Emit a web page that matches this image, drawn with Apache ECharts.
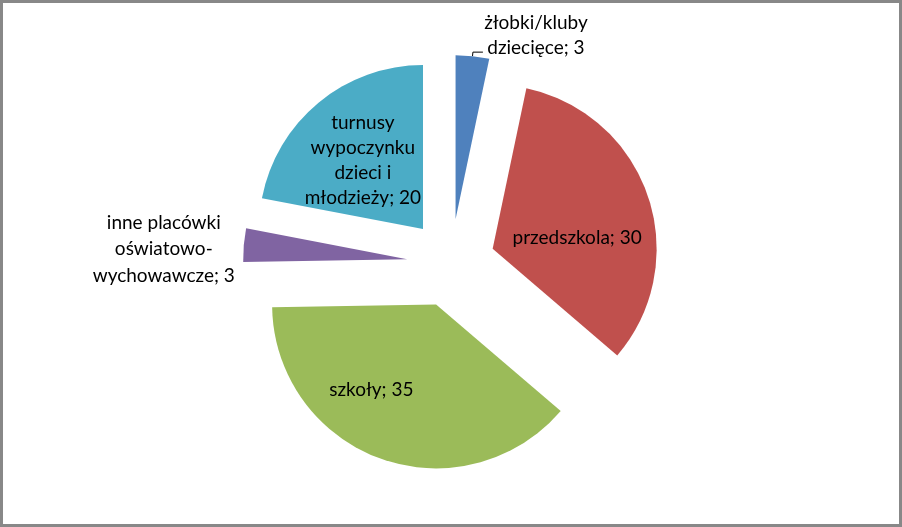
<!DOCTYPE html>
<html>
<head>
<meta charset="utf-8">
<script src="https://cdn.jsdelivr.net/npm/echarts@6/dist/echarts.min.js"></script>
<style>
html,body{margin:0;padding:0;background:#fff;}
#wrap{position:relative;width:902px;height:527px;}
#c{position:absolute;left:0;top:0;width:902px;height:527px;}
#frame{position:absolute;left:0;top:0;width:902px;height:527px;box-sizing:border-box;border:3px solid #888;pointer-events:none;z-index:10;}
</style>
</head>
<body>
<div id="wrap"><div id="c"></div><div id="frame"></div></div>
<script>
const categories = ['żłobki/kluby\ndziecięce', 'przedszkola', 'szkoły', 'inne placówki\noświatowo-\nwychowawcze', 'turnusy\nwypoczynku\ndzieci i\nmłodzieży'];
const values = [3, 30, 35, 3, 20];
const colors = ['#4F81BD', '#C0504D', '#9BBB59', '#8064A2', '#4BACC6'];

const FONT = 'Lato';
const FS = 19;
const LH = 25;

function richText(p) {
  return (p.name + '; ' + p.value).split('\n').map(function (s) { return '{c|' + s + '}'; }).join('\n');
}
function richStyle(w, lh) {
  return { c: { width: w, align: 'center', fontFamily: FONT, fontSize: FS, lineHeight: lh, color: '#000' } };
}

const labelCfg = [
  { show: true, position: 'outside', distanceToLabelLine: 0, padding: [0, 0, 33, 0], formatter: richText, rich: richStyle(106, 25) },
  { show: true, position: 'inside' },
  { show: true, position: 'inside' },
  { show: true, position: 'outside', distanceToLabelLine: 8, padding: [8, 0, 0, 0], formatter: richText, rich: richStyle(144, 26.5) },
  { show: true, position: 'inside' }
];
const lineCfg = [
  { show: true, length: 4, length2: 10, lineStyle: { color: '#000', width: 1 } },
  { show: false },
  { show: false },
  { show: false, length: 0, length2: 0 },
  { show: false }
];
const insideShift = { 1: [4, 16], 2: [-36, 5], 4: [-6, -3] };

const data = categories.map(function (name, i) {
  return {
    name: name,
    value: values[i],
    selected: true,
    itemStyle: { color: colors[i] },
    label: labelCfg[i],
    labelLine: lineCfg[i]
  };
});

const chart = echarts.init(document.getElementById('c'));
chart.setOption({
  animation: false,
  series: [{
    type: 'pie',
    center: [451, 263],
    radius: 164,
    startAngle: 90,
    clockwise: true,
    selectedMode: 'multiple',
    selectedOffset: 44,
    avoidLabelOverlap: false,
    emphasis: { disabled: true },
    label: {
      fontFamily: FONT,
      fontSize: FS,
      lineHeight: LH,
      color: '#000',
      align: 'center',
      formatter: '{b}; {c}'
    },
    labelLayout: function (params) {
      const s = insideShift[params.dataIndex];
      return s ? { dx: s[0], dy: s[1] } : {};
    },
    data: data
  }]
});
</script>
</body>
</html>
